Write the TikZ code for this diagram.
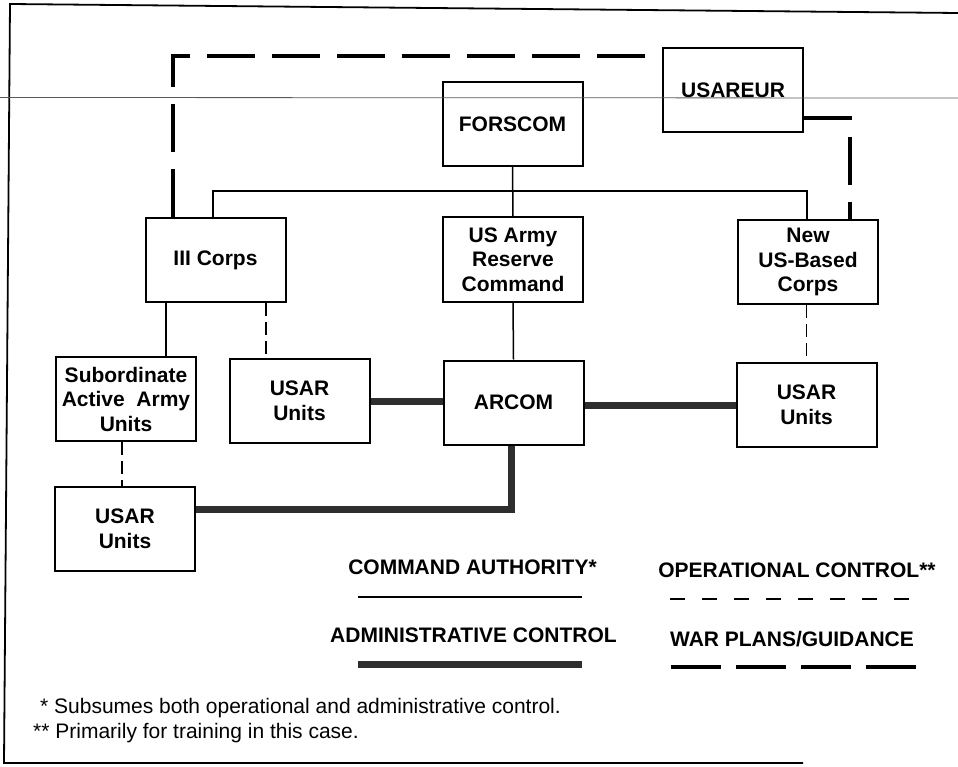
\documentclass[tikz,border=0pt]{standalone}
\usepackage{fontspec}
\setmainfont{Liberation Sans}
\begin{document}
\begin{tikzpicture}[x=1pt,y=-1pt,
  box/.style={draw, line width=2pt, minimum width=140pt, minimum height=84pt, inner sep=0pt, align=center,
    font=\bfseries\fontsize{21}{24.5}\selectfont},
  cmd/.style={line width=1.5pt},
  ops/.style={line width=1.6pt, dash pattern=on 13pt off 6pt},
  adm/.style={line width=7pt, black!82, line join=miter},
  war/.style={line width=4pt, dash pattern=on 48pt off 17pt, line join=miter},
  legtext/.style={inner sep=0pt, anchor=base, font=\bfseries\fontsize{21}{24}\selectfont},
  foot/.style={inner sep=0pt, anchor=base west, font=\fontsize{21}{24}\selectfont}]
\useasboundingbox (0,0) rectangle (958,767);
% frame and scan line
\draw[line width=1.8pt] (958,13) -- (10,4) -- (4,763) -- (803,763);
% boxes
\node[box] (forscom) at (512.5,124) {FORSCOM};
\node[box] (usareur) at (733,90) {USAREUR};
\node[box] (iii) at (215.5,260) {III Corps};
\node[box] (usarc) at (513,259.5) {US Army\\Reserve\\Command};
\node[box] (newc) at (808,262) {New\\US-Based\\Corps};
\node[box] (sub) at (126,399) {Subordinate\\Active\ \ Army\\Units};
\node[box] (usar1) at (299.5,401) {USAR\\Units};
\node[box] (arcom) at (513.5,402.5) {ARCOM};
\node[box] (usar2) at (806.5,405) {USAR\\Units};
\node[box] (usar3) at (125,529) {USAR\\Units};
% command authority
\coordinate (busL) at (213,191);
\coordinate (busR) at (807,191);
\draw[cmd] (forscom.south) -- (usarc.north);
\draw[cmd] (iii.north -| busL) -- (busL) -- (busR) -- (newc.north -| busR);
\draw[cmd] (usarc.south) -- (arcom.north);
\draw[cmd] ([xshift=-49.5pt]iii.south) -- ([xshift=-49.5pt]iii.south |- sub.north);
% operational control
\draw[ops] ([xshift=50.5pt]iii.south) -- ([xshift=50.5pt]iii.south |- usar1.north);
\draw[ops] ([xshift=-4pt]sub.south) -- ([xshift=-4pt]sub.south |- usar3.north);
\draw[ops] (newc.south -| usar2.north) -- (usar2.north);
% administrative control
\draw[adm] (usar1.east) -- (usar1.east -| arcom.west);
\draw[adm] (usar2.west -| arcom.east) -- (usar2.west);
\draw[adm] ([xshift=-2.5pt]arcom.south) |- ([yshift=19.5pt]usar3.east);
% war plans / guidance
\draw[war] ([xshift=-42.5pt]iii.north) |- ([yshift=34pt]usareur.west);
\draw[war] ([yshift=-28pt]usareur.east) -| ([xshift=42pt]newc.north);
% scan line
\draw[line width=0.8pt, black!65] (0,97.5) -- (958,98);
% legend
\node[legtext] (lca) at (472.5,574) {COMMAND AUTHORITY*};
\node[legtext] (lop) at (797,577) {OPERATIONAL CONTROL**};
\node[legtext] (lad) at (473.5,642) {ADMINISTRATIVE CONTROL};
\node[legtext] (lwp) at (792,646) {WAR PLANS/GUIDANCE};
\draw[cmd] (358,597) -- (582,597);
\draw[line width=1.8pt, dash pattern=on 15pt off 17pt] (670,599) -- (909,599);
\draw[adm] (358,664) -- (582,664);
\draw[war, dash pattern=on 50pt off 15pt] (671,667) -- (916,667);
% footnotes
\node[foot] (f1) at (40,713) {* Subsumes both operational and administrative control.};
\node[foot] (f2) at (33,738) {** Primarily for training in this case.};
\end{tikzpicture}
\end{document}
